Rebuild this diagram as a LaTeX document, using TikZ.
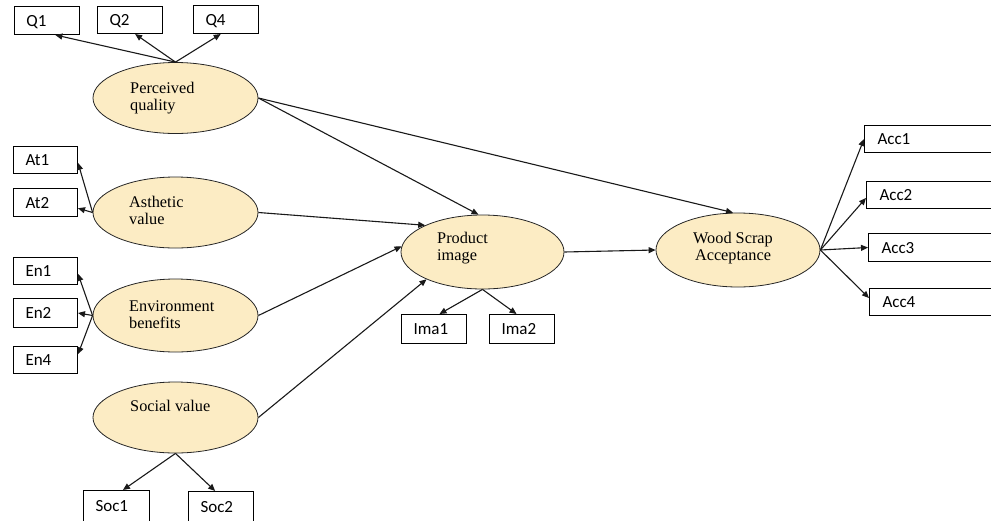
\documentclass[tikz,border=0pt]{standalone}
\usepackage{fontspec}
\setmainfont{Liberation Serif}
\newfontfamily\boxfont{Carlito}
\usetikzlibrary{shapes.geometric,arrows.meta,calc}
\definecolor{latentfill}{RGB}{252,236,196}
\tikzset{
  latent/.style={ellipse, draw=black!85, line width=0.8pt, fill=latentfill, inner sep=0pt},
  latentlabel/.style={font=\fontsize{16.3}{17}\selectfont, inner sep=0pt, align=left, anchor=north west},
  indicator/.style={rectangle, draw=black, line width=1pt, fill=white, anchor=north west,
    font=\boxfont\fontsize{17}{18}\selectfont, align=left, inner ysep=0pt, inner xsep=12pt,
    text height=11pt, text depth=0pt},
  path/.style={draw=black!90, line width=1.1pt, -{Triangle[length=7pt,width=6pt]}}
}
\begin{document}
\begin{tikzpicture}[x=1pt,y=-1pt]
\useasboundingbox (0,0) rectangle (991,520);
\clip (0,0) rectangle (991,520);

% latent constructs
\node[latent, minimum width=165, minimum height=71] (pq) at (175.5,98) {};
\node[latent, minimum width=165, minimum height=71] (av) at (175.5,212.5) {};
\node[latent, minimum width=165, minimum height=73] (eb) at (175.5,315.5) {};
\node[latent, minimum width=165, minimum height=71] (sv) at (175.5,417.5) {};
\node[latent, minimum width=163, minimum height=74] (pi) at (482.5,252) {};
\node[latent, minimum width=164, minimum height=74] (ws) at (738,250) {};

\node[latentlabel] (pqt) at (130,82) {Perceived\\quality};
\node[latentlabel] (avt) at (129,196) {Asthetic\\value};
\node[latentlabel] (ebt) at (129,301) {Environment\\benefits};
\node[latentlabel] (svt) at (130,400) {Social value};
\node[latentlabel] (pit) at (437,232) {Product\\image};
\node[latentlabel, align=center, anchor=north] (wst) at (733,232) {Wood Scrap\\Acceptance};

% indicator boxes
\node[indicator, text width=41, minimum height=28] (q1) at (14,6) {Q1};
\node[indicator, text width=41, minimum height=27] (q2) at (97,6) {Q2};
\node[indicator, text width=41, minimum height=28] (q4) at (193,5) {Q4};

\node[indicator, text width=40, minimum height=27] (at1) at (13,146) {At1};
\node[indicator, text width=40, minimum height=28] (at2) at (13,188) {At2};

\node[indicator, text width=40, minimum height=27] (en1) at (13,257) {En1};
\node[indicator, text width=40, minimum height=29] (en2) at (13,298) {En2};
\node[indicator, text width=40, minimum height=27] (en4) at (13,346) {En4};

\node[indicator, text width=42, minimum height=31] (soc1) at (83,490) {Soc1};
\node[indicator, text width=41, minimum height=31] (soc2) at (188,491) {Soc2};

\node[indicator, text width=41, minimum height=29] (ima1) at (401,314) {Ima1};
\node[indicator, text width=41, minimum height=29] (ima2) at (489,314) {Ima2};

\node[indicator, inner xsep=13pt, text width=120, minimum height=27] (acc1) at (864,125) {Acc1};
\node[indicator, inner xsep=13pt, text width=120, minimum height=27] (acc2) at (866,181) {Acc2};
\node[indicator, inner xsep=13pt, text width=120, minimum height=28] (acc3) at (868,233) {Acc3};
\node[indicator, inner xsep=13pt, text width=120, minimum height=27] (acc4) at (869,288) {Acc4};

% measurement arrows
\draw[path] (pq.north) -- (q1.-60);
\draw[path] (pq.north) -- (q2.-70);
\draw[path] (pq.north) -- (q4.-110);

\draw[path] (av.west) -- (at1.-5);
\draw[path] (av.west) -- (at2.-10);

\draw[path] (eb.west) -- (en1.-5);
\draw[path] (eb.west) -- (en2.east);
\draw[path] (eb.west) -- (en4.10);

\draw[path] (sv.south) -- (soc1.68);
\draw[path] (sv.south) -- (soc2.110);

\draw[path] (pi.south) -- (ima1.70);
\draw[path] (pi.south) -- (ima2.110);

\draw[path] (ws.east) -- (acc1.west);
\draw[path] (ws.east) -- ([yshift=-3pt]acc2.west);
\draw[path] (ws.east) -- (acc3.west);
\draw[path] (ws.east) -- ([yshift=4pt]acc4.west);

% structural paths
\draw[path] (pq.east) -- ([xshift=-4pt]pi.north);
\draw[path] (pq.east) -- ([xshift=-5pt]ws.north);
\draw[path] (av.east) -- (pi.155);
\draw[path] (eb.east) -- (pi.176);
\draw[path] (sv.east) -- (pi.206);
\draw[path] (pi.east) -- (ws.west);
\end{tikzpicture}
\end{document}
